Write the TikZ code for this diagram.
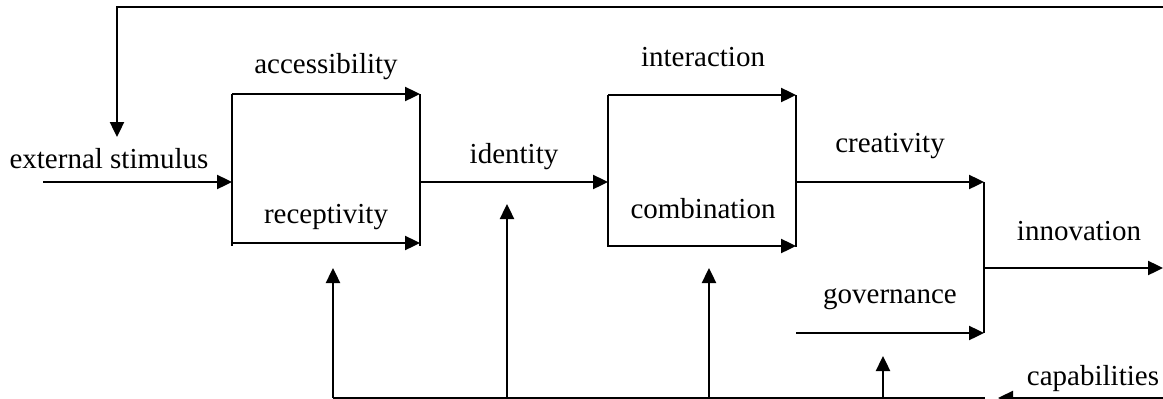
\documentclass[tikz,border=0pt]{standalone}
\usepackage{fontspec}
\setmainfont{Liberation Serif}
\usetikzlibrary{arrows.meta}
\begin{document}
\begin{tikzpicture}[x=1pt,y=-1pt,line width=2.4pt,
  flow/.style={-{Triangle[length=15pt,width=14pt]}},
  lbl/.style={font=\fontsize{29}{33}\selectfont,inner sep=0pt,anchor=base}]
\useasboundingbox (0,0) rectangle (1163,399);
% coordinates
\coordinate (topR) at (1163,7);
\coordinate (topL) at (117,7);
\coordinate (fbTip) at (117,137);
\coordinate (esStart) at (43,182);
\coordinate (b1TL) at (232,94);
\coordinate (b1TR) at (420,94);
\coordinate (b1BL) at (232,246);
\coordinate (b1BR) at (420,246);
\coordinate (b1ML) at (232,182);
\coordinate (b1MR) at (420,182);
\coordinate (b1Bot) at (232,243);
\coordinate (b1BotR) at (420,243);
\coordinate (b2TL) at (608,95);
\coordinate (b2TR) at (796,95);
\coordinate (b2BL) at (608,247);
\coordinate (b2BR) at (796,247);
\coordinate (b2ML) at (608,182);
\coordinate (b2MR) at (796,182);
\coordinate (b2Bot) at (608,246);
\coordinate (b2BotR) at (796,246);
\coordinate (cTop) at (984,182);
\coordinate (cBot) at (984,333);
\coordinate (cMid) at (984,268);
\coordinate (innEnd) at (1163,268);
\coordinate (govStart) at (796,333);
\coordinate (botL) at (333,398);
\coordinate (botR) at (985,398);
\coordinate (botA) at (507,398);
\coordinate (botB) at (709,398);
\coordinate (botC) at (883,398);
\coordinate (upA) at (333,268);
\coordinate (upB) at (507,204);
\coordinate (upC) at (709,268);
\coordinate (upD) at (883,356);
\coordinate (capStart) at (1163,398);
\coordinate (capTip) at (998,398);
% labels
\node[lbl] (tEs) at (109,168) {external stimulus};
\node[lbl] (tAcc) at (326,73) {accessibility};
\node[lbl] (tRec) at (326,223) {receptivity};
\node[lbl] (tId) at (514,163) {identity};
\node[lbl] (tInt) at (703,66) {interaction};
\node[lbl] (tComb) at (703,218) {combination};
\node[lbl] (tCre) at (890,152) {creativity};
\node[lbl] (tInn) at (1079,240) {innovation};
\node[lbl] (tGov) at (890,303) {governance};
\node[lbl] (tCap) at (1093,385) {capabilities};
% feedback
\draw[flow] (topR) -- (topL) -- (fbTip);
\draw[flow] (esStart) -- (b1ML);
% box 1
\draw[flow] (b1TL) -- (b1TR);
\draw (b1TL) -- (b1BL);
\draw (b1TR) -- (b1BR);
\draw[flow] (b1Bot) -- (b1BotR);
\draw[flow] (b1MR) -- (b2ML);
% box 2
\draw[flow] (b2TL) -- (b2TR);
\draw (b2TL) -- (b2BL);
\draw (b2TR) -- (b2BR);
\draw[flow] (b2Bot) -- (b2BotR);
% combiner
\draw[flow] (b2MR) -- (cTop);
\draw[flow] (govStart) -- (cBot);
\draw (cTop) -- (cBot);
\draw[flow] (cMid) -- (innEnd);
% bottom
\draw (botL) -- (botR);
\draw[flow] (botL) -- (upA);
\draw[flow] (botA) -- (upB);
\draw[flow] (botB) -- (upC);
\draw[flow] (botC) -- (upD);
\draw[flow] (capStart) -- (capTip);
\end{tikzpicture}
\end{document}
